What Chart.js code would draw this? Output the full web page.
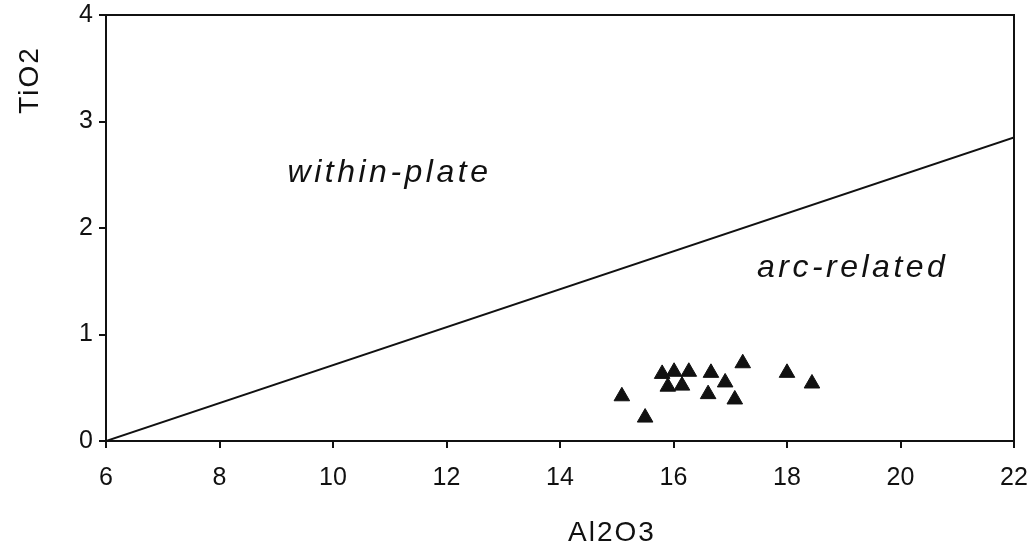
<!DOCTYPE html>
<html>
<head>
<meta charset="utf-8">
<script src="https://cdn.jsdelivr.net/npm/chart.js@4.4.1/dist/chart.umd.min.js"></script>
<style>
    html, body { margin: 0; padding: 0; background: #fff; }
    #wrap { width: 1035px; height: 551px; }
</style>
</head>
<body>
<div id="wrap"><canvas id="chart"></canvas></div>
<script>
var al2o3 = [15.09, 15.50, 15.80, 16.01, 15.90, 16.15, 16.27, 16.66, 16.61, 16.91, 17.08, 17.22, 18.00, 18.44];
var tio2 = [0.42, 0.22, 0.63, 0.65, 0.51, 0.52, 0.65, 0.64, 0.44, 0.55, 0.39, 0.73, 0.64, 0.54];

var boundaryX = [6, 22];
var boundaryY = [0, 2.85];

var fieldLabels = ['within-plate', 'arc-related'];
var fieldLabelX = [9.2, 17.47];
var fieldLabelY = [2.52, 1.62];

var xTitle = 'Al2O3';
var yTitle = 'TiO2';

var samplePoints = [];
for (var i = 0; i < al2o3.length; i++) {
    samplePoints.push({x: al2o3[i], y: tio2[i]});
}

var boundaryPoints = [];
for (var j = 0; j < boundaryX.length; j++) {
    boundaryPoints.push({x: boundaryX[j], y: boundaryY[j]});
}

// frame, field names and axis titles
var textPlugin = {
    id: 'diagramText',
    afterDatasetsDraw: function(chart) {
        var ctx = chart.ctx;
        var area = chart.chartArea;
        var xs = chart.scales.x;
        var ys = chart.scales.y;

        ctx.save();
        ctx.strokeStyle = '#111';
        ctx.lineWidth = 2;
        ctx.strokeRect(area.left, area.top, area.right - area.left, area.bottom - area.top);

        ctx.fillStyle = '#111';
        ctx.font = 'italic 32px "Liberation Sans", Arial, sans-serif';
        ctx.letterSpacing = '3.5px';
        ctx.textAlign = 'left';
        ctx.textBaseline = 'middle';
        for (var k = 0; k < fieldLabels.length; k++) {
            ctx.fillText(fieldLabels[k], xs.getPixelForValue(fieldLabelX[k]), ys.getPixelForValue(fieldLabelY[k]));
        }

        ctx.font = '28px "Liberation Sans", Arial, sans-serif';
        ctx.letterSpacing = '2px';
        ctx.textAlign = 'center';
        ctx.fillText(xTitle, 612, 533);

        ctx.translate(30, 80);
        ctx.rotate(-Math.PI / 2);
        ctx.fillText(yTitle, 0, 0);
        ctx.restore();
    }
};

var tickFont = {family: '"Liberation Sans", Arial, sans-serif', size: 25};

new Chart(document.getElementById('chart'), {
    type: 'scatter',
    data: {
        datasets: [{
            label: 'samples',
            data: samplePoints,
            pointStyle: 'triangle',
            pointRadius: 9,
            pointHoverRadius: 9,
            backgroundColor: '#111',
            borderColor: '#111',
            borderWidth: 1
        }, {
            label: 'boundary',
            data: boundaryPoints,
            showLine: true,
            fill: false,
            borderColor: '#111',
            borderWidth: 2,
            pointRadius: 0,
            pointHoverRadius: 0
        }]
    },
    options: {
        responsive: true,
        maintainAspectRatio: false,
        animation: false,
        events: [],
        layout: {
            padding: {top: 15, right: 21, left: 0, bottom: 0}
        },
        plugins: {
            legend: {display: false},
            tooltip: {enabled: false}
        },
        scales: {
            x: {
                type: 'linear',
                min: 6,
                max: 22,
                ticks: {stepSize: 2, color: '#111', font: tickFont, padding: 15, maxRotation: 0},
                grid: {drawOnChartArea: false, tickLength: 7, color: '#111', lineWidth: 2},
                border: {color: '#111', width: 2},
                afterFit: function(scale) {
                    scale.height = 110;
                    scale.paddingLeft = 0;
                    scale.paddingRight = 0;
                }
            },
            y: {
                type: 'linear',
                min: 0,
                max: 4,
                ticks: {stepSize: 1, color: '#111', font: tickFont, padding: 6},
                grid: {drawOnChartArea: false, tickLength: 7, color: '#111', lineWidth: 2},
                border: {color: '#111', width: 2},
                afterFit: function(scale) {
                    scale.width = 106;
                    scale.paddingTop = 0;
                    scale.paddingBottom = 0;
                }
            }
        }
    },
    plugins: [textPlugin]
});
</script>
</body>
</html>
